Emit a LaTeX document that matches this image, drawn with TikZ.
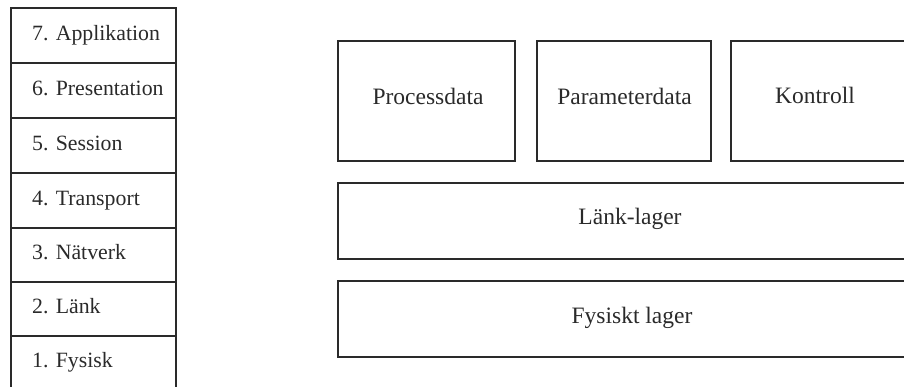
\documentclass[tikz,border=0pt]{standalone}
\usepackage{fontspec}
\setmainfont{Liberation Serif}
\definecolor{ink}{HTML}{2A2A2A}
\begin{document}
\begin{tikzpicture}[x=1pt,y=-1pt,
  box/.style={draw=ink, line width=1.3pt, rectangle, inner sep=0pt},
  osi/.style={box, minimum width=165pt},
  ositext/.style={anchor=base west, inner sep=0pt, text=ink, font=\fontsize{21.8}{26}\selectfont},
  lyrtext/.style={anchor=base, inner sep=0pt, text=ink, font=\fontsize{23.5}{28}\selectfont}]
\useasboundingbox (0,0) rectangle (904,387);
\clip (0,0) rectangle (904,387);

% OSI stack on the left
\node[osi, minimum height=55pt] (o7) at (93.5,35.5) {};
\node[osi, minimum height=55pt] (o6) at (93.5,90.5) {};
\node[osi, minimum height=55pt] (o5) at (93.5,145.5) {};
\node[osi, minimum height=55pt] (o4) at (93.5,200.5) {};
\node[osi, minimum height=54pt] (o3) at (93.5,255) {};
\node[osi, minimum height=54pt] (o2) at (93.5,309) {};
\node[osi, minimum height=55pt] (o1) at (93.5,363.5) {};

\node[ositext] (t7) at (32,40.5) {7. Applikation};
\node[ositext] (t6) at (32,95.5) {6. Presentation};
\node[ositext] (t5) at (32,150.5) {5. Session};
\node[ositext] (t4) at (32,205.5) {4. Transport};
\node[ositext] (t3) at (32,259) {3. Nätverk};
\node[ositext] (t2) at (32,313) {2. Länk};
\node[ositext] (t1) at (32,367) {1. Fysisk};

% Reduced layer model on the right
\node[box, minimum width=177pt, minimum height=120pt] (pd) at (426.5,101) {};
\node[box, minimum width=174pt, minimum height=120pt] (par) at (624,101) {};
\node[box, minimum width=179pt, minimum height=120pt] (ktl) at (820.5,101) {};
\node[box, minimum width=584pt, minimum height=76pt] (lnk) at (630,221) {};
\node[box, minimum width=584pt, minimum height=76pt] (fys) at (630,319) {};

\node[lyrtext] (pdt) at (428,105) {Processdata};
\node[lyrtext] (part) at (624.5,105) {Parameterdata};
\node[lyrtext] (ktlt) at (815,104) {Kontroll};
\node[lyrtext] (lnkt) at (630,225) {Länk-lager};
\node[lyrtext] (fyst) at (632,323) {Fysiskt lager};
\end{tikzpicture}
\end{document}
